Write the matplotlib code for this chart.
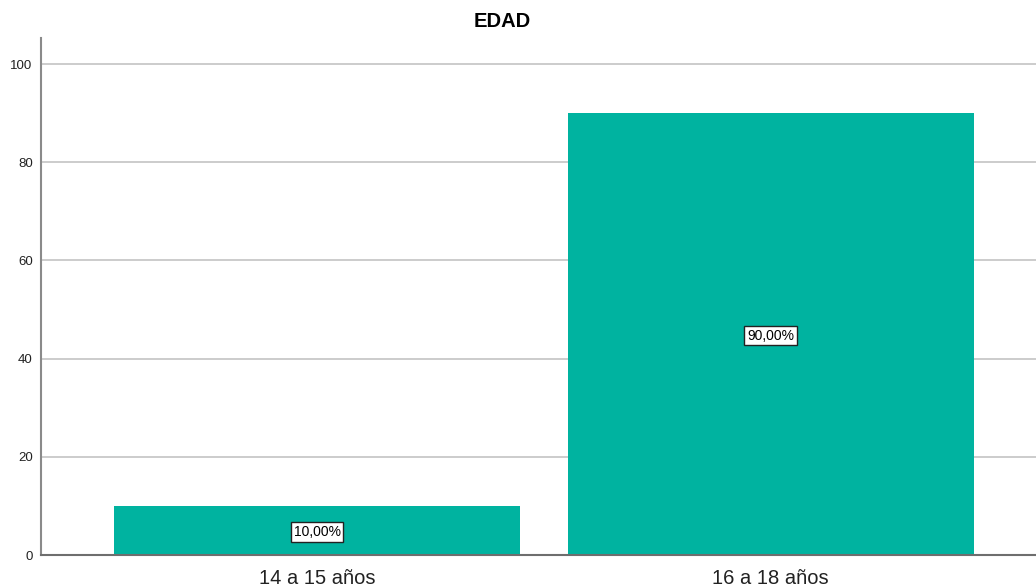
import matplotlib
matplotlib.use("Agg")
import matplotlib.pyplot as plt

plt.rcParams['font.family'] = ['Liberation Sans', 'DejaVu Sans']

# datos
categorias = ['14 a 15 años', '16 a 18 años']
porcentajes = [10.0, 90.0]
etiquetas = ['10,00%', '90,00%']
ticks_y = [0, 20, 40, 60, 80, 100]

fig = plt.figure(figsize=(10.36, 5.86), dpi=100)
ax = fig.add_axes([41/1036, 1-555/586, 1-41/1036, (555-38)/586])

x = list(range(len(categorias)))
bars = ax.bar(x, porcentajes, width=0.895, color='#00b3a0', zorder=2)

for b, txt in zip(bars, etiquetas):
    ax.text(b.get_x() + b.get_width()/2, b.get_height()/2 - 0.3, txt,
            ha='center', va='center', fontsize=10, color='black', zorder=3,
            bbox=dict(boxstyle='square,pad=0.2', facecolor='white',
                      edgecolor='#222222', linewidth=1))

ax.set_xlim(-0.609, 1.585)
ax.set_ylim(0, 105.3)
ax.set_yticks(ticks_y)
ax.set_xticks(x)
ax.set_xticklabels(categorias, fontsize=14.5, color='#222222')
ax.tick_params(axis='y', length=0, pad=6, labelsize=9.5, labelcolor='#222222')
ax.tick_params(axis='x', length=0, pad=10)

ax.grid(axis='y', color='#c8c8c8', linewidth=1.3, zorder=0)
ax.set_axisbelow(True)

for s in ['top', 'right']:
    ax.spines[s].set_visible(False)
ax.spines['left'].set_color('#8a8a8a')
ax.spines['left'].set_linewidth(1.5)
ax.spines['bottom'].set_color('#6e6e6e')
ax.spines['bottom'].set_linewidth(1.5)

ax.set_title('EDAD', fontsize=14.5, fontweight='bold', pad=8, x=0.464)

fig.savefig('out.png', dpi=100)
